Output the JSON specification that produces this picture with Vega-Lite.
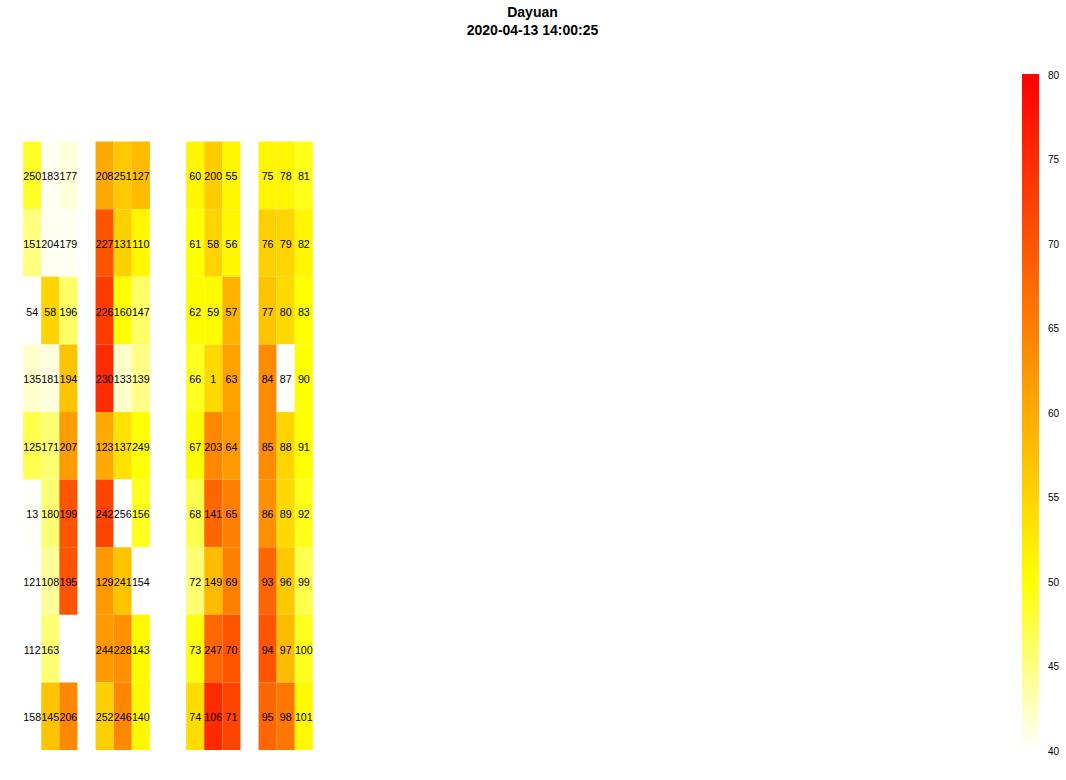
{
  "$schema": "https://vega.github.io/schema/vega-lite/v6.json",
  "autosize": {"type": "none"},
  "width": 978,
  "height": 676,
  "padding": {"left": 5, "top": 74, "right": 83, "bottom": 30},
  "background": "white",
  "config": {"view": {"stroke": null}, "font": "Liberation Sans"},
  "title": {
    "text": "Dayuan",
    "subtitle": "2020-04-13 14:00:25",
    "anchor": "middle",
    "frame": "bounds",
    "font": "Liberation Sans",
    "fontSize": 14,
    "fontWeight": "bold",
    "subtitleFont": "Liberation Sans",
    "subtitleFontSize": 14,
    "subtitleFontWeight": "bold",
    "subtitleColor": "black",
    "color": "black",
    "subtitlePadding": 4,
    "offset": 36
  },
  "data": {
    "values": [
      {"row": 1, "col": 1, "value": 48.5, "id": 250},
      {"row": 1, "col": 2, "value": 40.5, "id": 183},
      {"row": 1, "col": 3, "value": 41.5, "id": 177},
      {"row": 1, "col": 5, "value": 60, "id": 208},
      {"row": 1, "col": 6, "value": 56.5, "id": 251},
      {"row": 1, "col": 7, "value": 58, "id": 127},
      {"row": 1, "col": 10, "value": 51, "id": 60},
      {"row": 1, "col": 11, "value": 56, "id": 200},
      {"row": 1, "col": 12, "value": 51, "id": 55},
      {"row": 1, "col": 14, "value": 51, "id": 75},
      {"row": 1, "col": 15, "value": 51, "id": 78},
      {"row": 1, "col": 16, "value": 49, "id": 81},

      {"row": 2, "col": 1, "value": 45, "id": 151},
      {"row": 2, "col": 2, "value": 40.5, "id": 204},
      {"row": 2, "col": 3, "value": 40.5, "id": 179},
      {"row": 2, "col": 5, "value": 70, "id": 227},
      {"row": 2, "col": 6, "value": 55.5, "id": 131},
      {"row": 2, "col": 7, "value": 51, "id": 110},
      {"row": 2, "col": 10, "value": 50, "id": 61},
      {"row": 2, "col": 11, "value": 55, "id": 58},
      {"row": 2, "col": 12, "value": 51, "id": 56},
      {"row": 2, "col": 14, "value": 55.5, "id": 76},
      {"row": 2, "col": 15, "value": 55, "id": 79},
      {"row": 2, "col": 16, "value": 51, "id": 82},

      {"row": 3, "col": 1, "value": 40, "id": 54},
      {"row": 3, "col": 2, "value": 55, "id": 58},
      {"row": 3, "col": 3, "value": 46, "id": 196},
      {"row": 3, "col": 5, "value": 73, "id": 226},
      {"row": 3, "col": 6, "value": 50, "id": 160},
      {"row": 3, "col": 7, "value": 46, "id": 147},
      {"row": 3, "col": 10, "value": 50.5, "id": 62},
      {"row": 3, "col": 11, "value": 50.5, "id": 59},
      {"row": 3, "col": 12, "value": 59, "id": 57},
      {"row": 3, "col": 14, "value": 57, "id": 77},
      {"row": 3, "col": 15, "value": 54.5, "id": 80},
      {"row": 3, "col": 16, "value": 50, "id": 83},

      {"row": 4, "col": 1, "value": 42, "id": 135},
      {"row": 4, "col": 2, "value": 41.3, "id": 181},
      {"row": 4, "col": 3, "value": 57, "id": 194},
      {"row": 4, "col": 5, "value": 75, "id": 230},
      {"row": 4, "col": 6, "value": 42, "id": 133},
      {"row": 4, "col": 7, "value": 44.7, "id": 139},
      {"row": 4, "col": 10, "value": 48.8, "id": 66},
      {"row": 4, "col": 11, "value": 54.5, "id": 1},
      {"row": 4, "col": 12, "value": 61, "id": 63},
      {"row": 4, "col": 14, "value": 63.5, "id": 84},
      {"row": 4, "col": 15, "value": 40, "id": 87},
      {"row": 4, "col": 16, "value": 50, "id": 90},

      {"row": 5, "col": 1, "value": 47, "id": 125},
      {"row": 5, "col": 2, "value": 45.5, "id": 171},
      {"row": 5, "col": 3, "value": 61.5, "id": 207},
      {"row": 5, "col": 5, "value": 60, "id": 123},
      {"row": 5, "col": 6, "value": 53.5, "id": 137},
      {"row": 5, "col": 7, "value": 50, "id": 249},
      {"row": 5, "col": 10, "value": 50.5, "id": 67},
      {"row": 5, "col": 11, "value": 64, "id": 203},
      {"row": 5, "col": 12, "value": 62, "id": 64},
      {"row": 5, "col": 14, "value": 63.5, "id": 85},
      {"row": 5, "col": 15, "value": 55, "id": 88},
      {"row": 5, "col": 16, "value": 50, "id": 91},

      {"row": 6, "col": 1, "value": 40.2, "id": 13},
      {"row": 6, "col": 2, "value": 45.5, "id": 180},
      {"row": 6, "col": 3, "value": 70, "id": 199},
      {"row": 6, "col": 5, "value": 72, "id": 242},
      {"row": 6, "col": 6, "value": 40, "id": 256},
      {"row": 6, "col": 7, "value": 48.8, "id": 156},
      {"row": 6, "col": 10, "value": 47, "id": 68},
      {"row": 6, "col": 11, "value": 68, "id": 141},
      {"row": 6, "col": 12, "value": 65, "id": 65},
      {"row": 6, "col": 14, "value": 63, "id": 86},
      {"row": 6, "col": 15, "value": 54.5, "id": 89},
      {"row": 6, "col": 16, "value": 49, "id": 92},

      {"row": 7, "col": 1, "value": 40, "id": 121},
      {"row": 7, "col": 2, "value": 44, "id": 108},
      {"row": 7, "col": 3, "value": 70, "id": 195},
      {"row": 7, "col": 5, "value": 62, "id": 129},
      {"row": 7, "col": 6, "value": 57, "id": 241},
      {"row": 7, "col": 7, "value": 40, "id": 154},
      {"row": 7, "col": 10, "value": 45.5, "id": 72},
      {"row": 7, "col": 11, "value": 58, "id": 149},
      {"row": 7, "col": 12, "value": 65, "id": 69},
      {"row": 7, "col": 14, "value": 68, "id": 93},
      {"row": 7, "col": 15, "value": 56.5, "id": 96},
      {"row": 7, "col": 16, "value": 47, "id": 99},

      {"row": 8, "col": 1, "value": 40, "id": 112},
      {"row": 8, "col": 2, "value": 45.5, "id": 163},
      {"row": 8, "col": 5, "value": 62, "id": 244},
      {"row": 8, "col": 6, "value": 63, "id": 228},
      {"row": 8, "col": 7, "value": 50.7, "id": 143},
      {"row": 8, "col": 10, "value": 49.5, "id": 73},
      {"row": 8, "col": 11, "value": 68, "id": 247},
      {"row": 8, "col": 12, "value": 70, "id": 70},
      {"row": 8, "col": 14, "value": 70, "id": 94},
      {"row": 8, "col": 15, "value": 58, "id": 97},
      {"row": 8, "col": 16, "value": 48.8, "id": 100},

      {"row": 9, "col": 1, "value": 40, "id": 158},
      {"row": 9, "col": 2, "value": 57, "id": 145},
      {"row": 9, "col": 3, "value": 64, "id": 206},
      {"row": 9, "col": 5, "value": 55.5, "id": 252},
      {"row": 9, "col": 6, "value": 64, "id": 246},
      {"row": 9, "col": 7, "value": 51, "id": 140},
      {"row": 9, "col": 10, "value": 54, "id": 74},
      {"row": 9, "col": 11, "value": 75, "id": 106},
      {"row": 9, "col": 12, "value": 72, "id": 71},
      {"row": 9, "col": 14, "value": 68, "id": 95},
      {"row": 9, "col": 15, "value": 66, "id": 98},
      {"row": 9, "col": 16, "value": 50.7, "id": 101}
    ]
  },
  "encoding": {
    "x": {
      "field": "col",
      "type": "ordinal",
      "axis": null,
      "scale": {
        "domain": [0,1,2,3,4,5,6,7,8,9,10,11,12,13,14,15,16,17,18,19,20,21,22,23,24,25,26,27,28,29,30,31,32,33,34,35,36,37,38,39,40,41,42,43,44,45,46,47,48,49,50,51,52,53],
        "paddingInner": 0,
        "paddingOuter": 0
      }
    },
    "y": {
      "field": "row",
      "type": "ordinal",
      "axis": null,
      "scale": {
        "domain": [0,1,2,3,4,5,6,7,8,9],
        "paddingInner": 0,
        "paddingOuter": 0
      }
    }
  },
  "layer": [
    {
      "mark": {"type": "rect", "strokeWidth": 0},
      "encoding": {
        "color": {
          "field": "value",
          "type": "quantitative",
          "scale": {
            "domain": [40, 50, 80],
            "range": ["#ffffff", "#ffff00", "#ff0000"],
            "interpolate": "rgb",
            "clamp": true
          },
          "legend": {
            "title": null,
            "type": "gradient",
            "direction": "vertical",
            "gradientLength": 676,
            "gradientThickness": 17,
            "gradientStrokeWidth": 0,
            "values": [40, 45, 50, 55, 60, 65, 70, 75, 80],
            "labelFontSize": 10,
            "labelFont": "Liberation Sans",
            "labelColor": "black",
            "labelOffset": 9,
            "labelBaseline": "middle",
            "offset": 39,
            "padding": 0,
            "encode": {
              "labels": {
                "update": {
                  "baseline": {"value": "middle"},
                  "dy": {"value": 1.5}
                }
              }
            }
          }
        }
      }
    },
    {
      "mark": {
        "type": "text",
        "font": "Liberation Sans",
        "fontSize": 10.7,
        "color": "black",
        "align": "center",
        "baseline": "middle",
        "dy": 2
      },
      "encoding": {
        "text": {"field": "id", "type": "nominal"}
      }
    }
  ]
}
